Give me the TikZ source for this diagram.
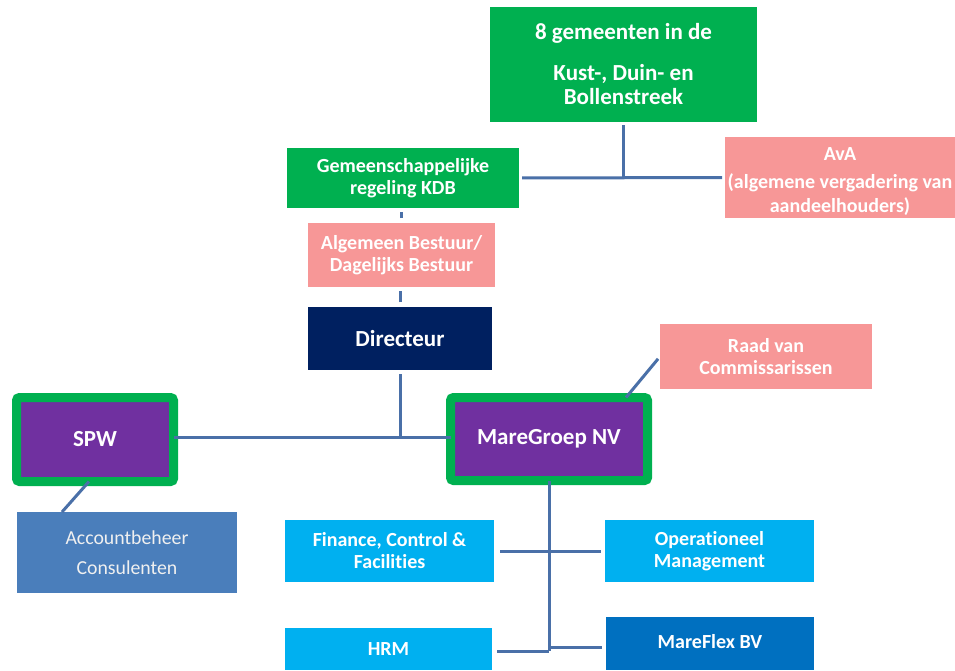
\documentclass[tikz,border=0pt]{standalone}
\usepackage{fontspec}
\setmainfont[Ligatures={NoCommon}]{Carlito}
\definecolor{cgreen}{HTML}{00B050}
\definecolor{cpink}{HTML}{F79797}
\definecolor{cnavy}{HTML}{002060}
\definecolor{cpurple}{HTML}{7030A0}
\definecolor{csteel}{HTML}{4A7EBB}
\definecolor{clight}{HTML}{00B0F0}
\definecolor{cmid}{HTML}{0070C0}
\definecolor{cline}{HTML}{4A70A8}
\begin{document}
\begin{tikzpicture}[x=1pt,y=-1pt,
  box/.style={rectangle,inner sep=0pt,outer sep=0pt,align=center,text=white,
    font=\fontsize{20}{22}\selectfont\bfseries},
  big/.style={font=\fontsize{23}{24}\selectfont\bfseries},
  gbox/.style={box,fill=cgreen},
  pbox/.style={box,fill=cpink},
  nbox/.style={box,fill=cnavy},
  lbox/.style={box,fill=clight},
  org/.style={box,fill=cpurple,draw=cgreen,line width=9pt,rounded corners=3pt},
  conn/.style={draw=cline,line width=3pt}]
\useasboundingbox (0,0) rectangle (955,670);
\fill[white] (0,0) rectangle (955,670);
\begin{scope}
\clip (0,0) rectangle (955,670);
\node[gbox,big,minimum width=267pt,minimum height=115pt] (gem) at (623.5,64.5)
  {8 gemeenten in de\\[17pt]Kust-, Duin- en\\Bollenstreek};
\node[gbox,minimum width=232pt,minimum height=60pt] (gr) at (403,178) {Gemeenschappelijke\\regeling KDB};
\node[pbox,minimum width=230pt,minimum height=81pt,font=\fontsize{20}{24}\selectfont\bfseries] (ava) at (840,177.5) {\rule{0pt}{22pt}AvA\\[4pt](algemene vergadering van\\aandeelhouders)};
\node[pbox,minimum width=187pt,minimum height=64pt] (ab) at (401.5,255) {Algemeen Bestuur/\\Dagelijks Bestuur};
\node[nbox,big,minimum width=184pt,minimum height=63pt] (dir) at (400,338.5) {Directeur};
\node[pbox,minimum width=212pt,minimum height=65pt] (rvc) at (766,356.5) {Raad van\\Commissarissen};
\node[org,big,minimum width=157pt,minimum height=84pt] (spw) at (95,439.5) {SPW};
\node[org,big,minimum width=197pt,minimum height=83pt] (mare) at (549,439) {MareGroep NV};
\node[box,fill=csteel,text=white!94!black,minimum width=220pt,minimum height=81pt,font=\fontsize{19.8}{30}\selectfont] (acc) at (127,552.5) {Accountbeheer\\Consulenten};
\node[lbox,minimum width=209pt,minimum height=62pt] (fin) at (389.5,551) {Finance, Control \&\\Facilities};
\node[lbox,minimum width=209pt,minimum height=62pt] (op) at (709.5,551) {Operationeel\\Management};
\node[lbox,minimum width=207pt,minimum height=42pt] (hrm) at (388.5,649) {HRM};
\node[box,fill=cmid,minimum width=208pt,minimum height=53pt] (mf) at (710,643.5) {\raisebox{4pt}{MareFlex BV}};
\end{scope}
% connectors
\coordinate (j1) at (gem.south |- gr.east);
\draw[conn,shorten <=3pt] (gem.south) -- (j1);
\draw[conn,shorten <=3pt,shorten >=3pt] (gr.east) -- (ava.west);
\draw[conn,shorten <=5pt,shorten >=4pt] (ab.north) -- (ab.north |- gr.south);
\draw[conn,shorten <=5pt,shorten >=4pt] (dir.north) -- (dir.north |- ab.south);
\coordinate (j2) at (dir.south |- 0,437);
\draw[conn,shorten <=4pt] (dir.south) -- (j2);
\draw[conn] (spw.east |- j2) -- (mare.west |- j2);
\draw[conn,shorten <=3pt] (rvc.west) -- ([xshift=77pt]mare.north);
\draw[conn] ([xshift=-6pt]spw.south) -- ([xshift=-65pt]acc.north);
\coordinate (j3) at (mare.south |- 0,651);
\draw[conn] (mare.south) -- (j3);
\draw[conn,shorten <=6pt,shorten >=4pt] (fin.east) -- (op.west);
\draw[conn,shorten <=5pt] (hrm.east |- j3) -- (j3);
\draw[conn,shorten >=4pt] (mare.south |- 0,647) -- (mf.west |- 0,647);
\end{tikzpicture}
\end{document}
